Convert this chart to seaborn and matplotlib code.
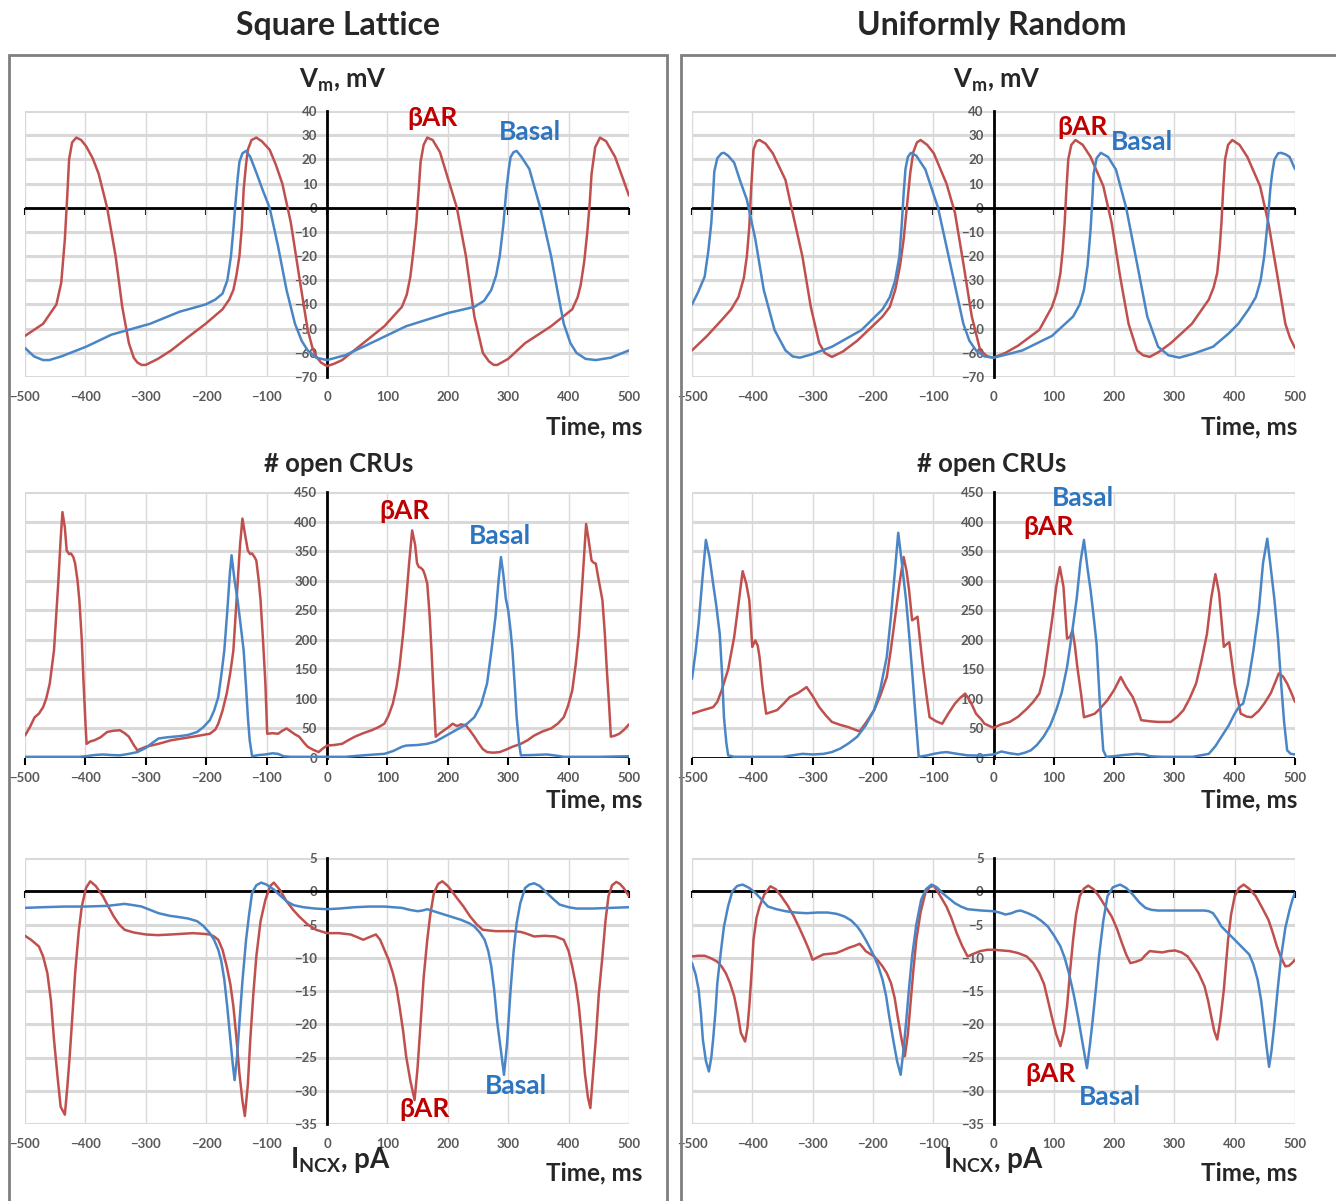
import numpy as np
import pandas as pd
import matplotlib
matplotlib.use("Agg")
import matplotlib.pyplot as plt
import seaborn as sns
from matplotlib.patches import Rectangle

# ---------------- DATA ----------------
x_ticks = list(range(-500, 501, 100))
vm_ticks = list(range(-70, 41, 10))
cru_ticks = list(range(0, 451, 50))
ncx_ticks = list(range(-35, 6, 5))

# Square lattice - membrane potential
sq_vm_t_bar = [-500,-470,-448,-440,-434,-430,-427,-422,-415,-407,-399,-388,-378,-364,-350,-339,-328,-320,-314,-307,-300,-280,-258,-230,-201,-173,-162,-155,-150,-145,-141,-138,-134,-131,-125,-117,-108,-95,-85,-74,-60,-46,-32,-24,-18,-10,0,12,25,60,95,124,132,138,143,148,152,155,160,166,175,187,201,215,230,244,258,268,276,282,300,328,371,406,415,420,426,431,435,438,444,452,462,477,490,500]
sq_vm_bar = [-53,-48,-40,-31,-13,5,20,27,29,28,25.5,20.5,14,0,-20,-41,-56,-62,-64,-65,-65,-62.5,-59,-53.5,-48,-42,-38,-34,-28,-20,-8,7.5,18,24,28,29,27.5,24,18,10,-6,-28.5,-50.5,-58,-61.5,-64,-65.5,-64.5,-63,-56,-49,-41,-36,-28.5,-18,-6,8,19,26,29,28,23,11.5,0,-20,-45,-60,-63.5,-65,-65,-62.5,-56,-49,-42,-37,-32,-22,-10,2,14,25,29,27.5,21,12,5]
sq_vm_t_bas = [-500,-485,-470,-460,-440,-399,-357,-293,-244,-201,-185,-173,-165,-159,-155,-152,-148,-145,-140,-134,-127,-117,-106,-95,-81,-67,-53,-42,-32,-18,0,30,60,131,201,244,260,272,280,286,292,297,301,304,309,314,322,335,353,371,382,392,403,413,428,445,470,500]
sq_vm_bas = [-58,-61.5,-63,-63,-61.5,-57.5,-52.5,-48,-43,-40,-38,-35.5,-30,-20,-9,0.5,12,19,22.5,23.5,21,14.5,7,0,-16,-34,-48,-55,-59,-62,-63,-61,-57.5,-49,-43.5,-41,-38.5,-34,-28,-20,-7,7.5,16,21,23,23.5,21,16,0,-20,-35,-48,-56,-60,-62.5,-63,-62,-59]

# Uniformly random - membrane potential
ur_vm_t_bar = [-500,-475,-451,-435,-423,-414,-409,-405,-402,-398,-393,-388,-378,-366,-345,-335,-317,-303,-289,-280,-268,-250,-226,-184,-172,-163,-155,-149,-143,-138,-133,-127,-121,-110,-99,-78,-64,-50,-36,-22,-10,0,20,41,76,97,105,111,115,118,121,124,129,136,148,161,182,196,210,224,238,248,259,275,294,329,357,365,371,375,378,381,384,389,396,408,421,442,456,470,484,492,500]
ur_vm_bar = [-59,-53,-46.5,-42,-37,-29,-20,-8,7.5,24,27.5,28,26.5,22.5,11.5,0,-20,-41,-56,-60,-61.7,-59.5,-55,-45,-41,-34,-24,-13,2,14.5,23,27,28,26,22.5,10,-2,-23,-45,-59,-61.5,-62,-60,-57,-50.5,-41,-35,-27,-17,-6.4,8,20,26,28,26,21,9,-6.4,-28.5,-48,-59,-61,-61.7,-59.5,-56,-48,-38,-33,-27,-17,-6.4,8,20,26,28,26,21,9,-6.4,-27,-48,-54,-58]
ur_vm_t_bas = [-500,-490,-479,-473,-468,-465,-463,-458,-451,-447,-440,-430,-420,-409,-395,-381,-363,-345,-333,-321,-300,-268,-219,-184,-172,-163,-156,-152,-149,-146,-142,-137,-128,-113,-92,-71,-50,-40,-29,-15,0,25,48,97,132,143,150,156,161,164,166,171,178,190,203,220,238,255,273,290,308,330,364,390,406,423,435,443,449,455,459,462,466,472,477,485,491,500]
ur_vm_bas = [-40,-35,-28.5,-18,-6.4,6,15,20.5,22.5,22.7,21.5,18.6,11,3.3,-13,-34,-50.6,-59,-61.5,-62,-60.5,-57.5,-50.6,-42,-37,-30,-20,-6.4,6,16,21,22.7,21.5,15.8,0,-24,-48,-55,-59,-61.5,-62,-60.5,-59,-53,-45,-40,-34,-24,-9,4,14,20.5,22.7,21,15.8,0,-23,-45,-57.5,-61,-62,-60.5,-57.5,-52,-48,-42,-37,-30,-20,-5,7.5,14,20,22.5,22.7,22,21,16]

# Square lattice - open CRUs
sq_cru_t_bar = [-500,-492,-484,-477,-470,-465,-459,-452,-445,-441,-438,-434,-431,-427,-424,-420,-417,-413,-410,-406,-403,-400,-398,-392,-385,-375,-364,-354,-343,-335,-328,-320,-314,-307,-300,-279,-258,-240,-222,-194,-185,-180,-173,-166,-160,-155,-148,-144,-140,-136,-131,-127,-124,-120,-117,-113,-110,-106,-102,-99,-90,-81,-74,-67,-60,-53,-46,-39,-32,-23,-14,-7,0,12,25,35,46,60,74,85,95,102,109,115,120,126,131,136,141,146,149,152,155,159,162,166,170,173,177,180,187,194,201,208,215,222,230,237,244,251,258,265,275,286,296,307,321,332,343,357,371,382,392,399,406,412,417,423,429,433,438,442,445,450,456,460,463,467,470,477,484,492,500]
sq_cru_bar = [38,52,69,75,86,100,126,182,295,370,416,390,351,345,346,340,329,300,267,200,126,60,24,28,30,35,44,46,47,42,36,22,13,16,19,24,30,33,36,41,48,58,80,109,145,182,295,360,405,380,351,345,346,340,334,300,267,200,126,41,42,41,46,50,45,40,36,27,19,14,10,16,21,22,24,30,36,42,47,52,58,72,92,120,154,210,267,330,385,360,330,323,322,318,310,295,240,182,100,36,42,47,52,58,54,57,55,46,36,25,15,10,9,10,14,19,24,30,38,45,50,58,69,88,114,160,210,300,396,370,334,330,329,300,267,210,154,90,36,38,41,48,57]
sq_cru_t_bas = [-500,-450,-410,-399,-385,-371,-357,-343,-328,-314,-300,-290,-279,-265,-244,-230,-215,-205,-194,-187,-180,-175,-170,-165,-161,-158,-153,-148,-143,-138,-134,-131,-128,-124,-113,-102,-90,-81,-72,-60,0,30,60,80,95,110,124,131,150,166,180,194,208,222,232,244,255,265,272,279,284,288,292,296,300,304,307,311,314,318,321,340,364,380,392,450,500]
sq_cru_bas = [2,2,2,3,5,6,5,4.5,7,10,17,25,33,35,37,39,44,52,64,80,103,140,182,250,310,343,300,267,225,182,120,69,30,3,5,6,8,7,3,2,2,2,4.5,6,7,12,19,21,22,24,28,36,44,52,58,69,90,126,180,239,300,340,310,270,250,215,182,120,69,25,4.5,5,6,4,2,2,3]

# Uniformly random - open CRUs
ur_cru_t_bar = [-500,-485,-465,-458,-451,-440,-430,-423,-416,-410,-405,-400,-395,-391,-388,-383,-377,-368,-359,-348,-338,-324,-310,-300,-289,-278,-268,-254,-240,-230,-222,-210,-198,-188,-177,-170,-163,-156,-149,-144,-140,-135,-130,-126,-122,-117,-111,-106,-95,-85,-75,-64,-55,-47,-38,-29,-20,-15,0,13,27,41,55,66,76,84,90,98,104,110,116,122,127,131,135,139,145,150,160,168,178,189,200,211,220,231,238,245,260,273,294,305,315,325,336,345,354,361,368,374,382,386,391,395,400,405,410,420,428,440,449,460,468,473,480,487,494,500]
ur_cru_bar = [75,80,86,95,114,150,205,260,316,295,267,188,199,190,171,120,75,78,81,92,103,110,120,105,86,72,61,56,52,48,45,62,81,105,137,185,239,295,340,315,284,233,236,239,200,154,105,69,62,58,75,92,102,109,95,75,65,58,51,57,61,70,83,95,109,140,182,240,290,323,290,202,205,216,190,154,110,69,72,75,85,98,115,137,120,103,85,64,62,61,61,70,81,100,126,165,210,270,311,280,188,192,196,165,126,100,75,70,69,80,92,110,130,143,138,126,110,95]
ur_cru_t_bas = [-500,-494,-489,-483,-477,-471,-465,-460,-454,-450,-447,-443,-440,-430,-350,-330,-317,-300,-282,-268,-254,-240,-226,-212,-198,-188,-177,-170,-164,-158,-152,-145,-140,-135,-130,-124,-112,-99,-88,-78,-60,-43,-20,0,13,27,41,52,62,72,83,94,104,113,122,130,138,144,150,156,161,166,171,176,182,187,200,215,238,250,260,280,330,357,368,378,390,400,408,414,422,431,440,447,454,460,466,472,477,482,487,493,500]
ur_cru_bas = [134,180,227,300,369,340,295,260,210,140,69,25,4.5,2,2,5,7,6,7,10,16,25,36,55,81,115,171,240,310,381,330,267,210,148,80,2,4,7,9,10,7,4.5,4,6,11,8,6,9,13,22,36,55,81,110,154,210,270,330,369,320,284,240,193,100,13,2,3,5,7,6,3,2,2,7,20,36,55,75,88,92,125,182,250,330,371,320,267,200,126,60,13,7,6]

# Square lattice - I_NCX
sq_ncx_t_bar = [-500,-490,-477,-470,-463,-457,-452,-446,-441,-434,-430,-426,-421,-417,-411,-406,-399,-392,-383,-371,-362,-353,-344,-335,-320,-300,-280,-258,-240,-222,-205,-194,-187,-180,-173,-166,-160,-155,-150,-145,-140,-136,-131,-127,-122,-117,-110,-102,-94,-88,-78,-67,-56,-46,-32,-18,0,20,39,50,60,70,81,88,95,102,109,115,120,126,131,138,145,150,155,160,166,171,177,184,191,200,215,226,237,248,258,279,307,320,328,343,360,378,392,400,406,412,417,422,427,432,436,440,445,450,456,461,466,472,479,485,491,500]
sq_ncx_bar = [-6.7,-7.3,-8.3,-9.8,-12.3,-16.5,-22.3,-28,-32.4,-33.6,-29.5,-24.8,-18,-12.3,-6,-2.3,0.5,1.5,0.8,-0.75,-2.3,-3.8,-5,-5.8,-6.2,-6.5,-6.6,-6.5,-6.4,-6.3,-6.4,-6.5,-6.8,-7.3,-8.8,-11.3,-14,-17.3,-22,-27.4,-31.5,-33.8,-29,-22.3,-15.5,-9.8,-4.5,-1.3,0.8,1.3,0.2,-1.5,-2.8,-3.8,-5,-5.8,-6.3,-6.3,-6.5,-6.9,-7.3,-6.9,-6.5,-7.3,-8.8,-10.3,-12.3,-14.5,-17.3,-21,-24.8,-28.5,-31.4,-26.5,-19.8,-13,-7.3,-3.5,-0.25,1.1,1.5,0.8,-1,-2.3,-3.8,-5,-5.8,-6,-6,-6.1,-6.3,-6.8,-6.7,-6.8,-7.3,-9,-11.3,-14,-17.3,-22,-27.4,-31,-32.6,-28,-22.3,-15.5,-9.8,-4.5,-0.75,0.9,1.4,1.1,0.5,-0.75]
sq_ncx_t_bas = [-500,-470,-434,-400,-364,-335,-320,-307,-293,-279,-260,-244,-230,-215,-205,-194,-187,-180,-175,-170,-165,-160,-156,-153,-149,-145,-140,-134,-129,-124,-117,-109,-100,-88,-78,-67,-55,-39,-20,0,20,46,70,95,124,137,150,158,166,180,194,208,222,235,244,253,261,267,272,277,282,288,293,298,304,309,314,320,328,335,343,352,364,375,385,400,413,440,470,500]
sq_ncx_bas = [-2.5,-2.4,-2.3,-2.3,-2.2,-1.9,-2.1,-2.3,-2.8,-3.3,-3.7,-3.9,-4.1,-4.5,-5.2,-6.3,-7.3,-8.8,-10.5,-13.3,-17.5,-22.3,-26,-28.4,-25,-19.8,-13.5,-7.3,-3.5,-0.25,0.9,1.3,1.0,0.25,-0.6,-1.5,-2.1,-2.4,-2.6,-2.7,-2.6,-2.4,-2.3,-2.3,-2.5,-2.8,-3,-2.9,-2.7,-3.1,-3.5,-3.9,-4.3,-4.8,-5.3,-6.2,-7.3,-9,-11.3,-15,-19.8,-24,-27.6,-23,-14.8,-9,-4.8,-1.8,0.5,1.0,1.2,0.8,-0.25,-1.2,-2,-2.4,-2.6,-2.6,-2.5,-2.4]

# Uniformly random - I_NCX
ur_ncx_t_bar = [-500,-490,-479,-468,-458,-451,-444,-437,-430,-424,-419,-412,-408,-405,-401,-398,-393,-388,-380,-370,-361,-352,-341,-331,-322,-313,-306,-300,-291,-282,-272,-261,-250,-240,-230,-222,-217,-212,-205,-198,-191,-184,-177,-170,-164,-159,-153,-147,-142,-138,-133,-128,-121,-113,-106,-99,-89,-78,-70,-61,-52,-43,-33,-22,-10,0,14,27,41,55,66,76,84,90,97,104,111,117,122,127,132,137,143,150,157,166,175,185,196,205,213,220,227,236,245,252,259,270,280,290,301,312,322,331,340,350,356,361,366,371,376,382,386,389,394,400,407,415,425,435,445,456,463,470,477,484,490,495,500]
ur_ncx_bar = [-9.8,-9.7,-9.7,-10.1,-10.6,-11.3,-12.3,-13.8,-15.8,-18.5,-21.3,-22.6,-20.5,-17.3,-12,-7.3,-4,-2.3,-0.5,0.75,0.3,-0.75,-2.2,-3.8,-5.5,-7.3,-8.8,-10.3,-9.9,-9.5,-9.4,-9.3,-8.9,-8.5,-8.2,-7.9,-8.4,-9,-9.4,-9.8,-10.5,-11.3,-12.3,-13.8,-16,-18.8,-22,-24.8,-21.5,-17.3,-12,-7.3,-3.2,-0.25,0.6,0.85,-0.6,-2.3,-4,-6.3,-8.2,-9.8,-9.4,-9,-8.8,-8.8,-8.9,-9,-9.3,-9.8,-10.8,-12.3,-14,-16.3,-19,-21.5,-23.3,-21,-17.3,-12,-7.3,-3.5,-0.75,0.4,0.85,0.3,-0.75,-2.2,-3.8,-5.7,-7.8,-9.5,-10.8,-10.6,-10.3,-9.6,-9,-9.1,-9.2,-9,-8.9,-9.2,-9.8,-11,-12.3,-14.3,-16.5,-18.8,-21,-22.3,-19.5,-14.8,-10.5,-7.3,-3.5,-0.75,0.5,1,0.3,-0.75,-2.4,-4.3,-6.2,-8.3,-10,-11.3,-11.2,-10.8,-10.3]
ur_ncx_t_bas = [-500,-494,-489,-485,-482,-477,-472,-468,-465,-461,-458,-452,-447,-440,-433,-425,-416,-405,-395,-385,-374,-360,-345,-328,-310,-292,-275,-260,-247,-236,-226,-219,-212,-205,-198,-191,-184,-178,-173,-166,-160,-154,-150,-145,-140,-135,-128,-120,-112,-103,-94,-85,-75,-64,-54,-43,-20,0,10,20,30,38,45,57,69,80,90,100,111,118,125,133,140,148,155,160,164,170,175,182,189,198,210,220,231,242,252,262,273,290,308,330,350,357,364,371,378,389,400,412,424,431,438,444,449,453,457,461,466,471,477,484,491,496,500]
ur_ncx_bas = [-10.8,-12.5,-14.8,-18.5,-22.3,-25.5,-27.1,-25,-22.3,-18,-13.8,-9,-5.3,-2.2,0,0.8,1,0.5,-0.25,-1.2,-2.3,-2.7,-3,-3.2,-3.3,-3.2,-3.2,-3.4,-3.8,-4.4,-5.3,-6.2,-7.3,-8.5,-9.8,-11.3,-13.3,-15.8,-18.8,-22.5,-25.5,-27.6,-24.5,-19.8,-14.5,-9.8,-5,-1.3,0.3,1,0.6,-0.25,-1,-1.8,-2.3,-2.7,-2.9,-3,-3.2,-3.5,-3.3,-3,-2.9,-3.3,-3.8,-4.5,-5.3,-6.6,-8.3,-10,-12.3,-15.5,-18.8,-23,-26.6,-23,-19.8,-14.5,-9.8,-4.5,-0.75,0.6,1,0.5,-0.5,-1.7,-2.5,-2.8,-2.9,-2.9,-2.9,-2.9,-2.9,-3,-3.3,-4.2,-5.3,-6.3,-7.3,-8.4,-9.5,-11,-13.3,-16.5,-20.3,-23.5,-26.4,-24,-19.8,-15,-9.8,-5.5,-2.8,-1.2,-0.25]

# ---------------- STYLE ----------------
sns.set_style("white")
FONTS = ["Lato", "Open Sans", "DejaVu Sans"]
plt.rcParams["font.family"] = FONTS
plt.rcParams["mathtext.fontset"] = "custom"
plt.rcParams["mathtext.rm"] = "Lato:bold"
plt.rcParams["mathtext.bf"] = "Lato:bold"
plt.rcParams["mathtext.it"] = "Lato:bold:italic"

RED = "#C0504D"
BLUE = "#4A86C6"
RED_TXT = "#C00000"
BLUE_TXT = "#2E75C0"
GRID = "#d9d9d9"
TICK_TXT = "#595959"

W, H = 1336, 1201
fig = plt.figure(figsize=(W / 100, H / 100), dpi=100)


def fx(x):
    return x / W


def fy(y):
    return 1 - y / H


def make_ax(x0, x1, y0, y1):
    return fig.add_axes([fx(x0), fy(y1), fx(x1) - fx(x0), fy(y0) - fy(y1)])


def panel(ax, t_bar, v_bar, t_bas, v_bas, yticks):
    df = pd.concat([
        pd.DataFrame({"t": t_bar, "v": v_bar, "cond": "βAR"}),
        pd.DataFrame({"t": t_bas, "v": v_bas, "cond": "Basal"}),
    ], ignore_index=True)
    sns.lineplot(data=df, x="t", y="v", hue="cond", hue_order=["βAR", "Basal"],
                 palette={"βAR": RED, "Basal": BLUE}, estimator=None, sort=False,
                 linewidth=1.8, legend=False, ax=ax, zorder=3)
    ymin, ymax = yticks[0], yticks[-1]
    ax.set_xlim(x_ticks[0], x_ticks[-1])
    ax.set_ylim(ymin, ymax)
    ax.set_xticks(x_ticks)
    ax.set_yticks(yticks)
    ax.set_xlabel("")
    ax.set_ylabel("")
    ax.grid(True, axis="y", color=GRID, linewidth=2.2, zorder=0)
    ax.grid(True, axis="x", color=GRID, linewidth=1.0, zorder=0)
    ax.set_axisbelow(True)
    for s in ["top", "right", "bottom"]:
        ax.spines[s].set_visible(False)
    ax.spines["left"].set_position(("data", 0))
    ax.spines["left"].set_color("black")
    ax.spines["left"].set_linewidth(2)
    ax.spines["left"].set_zorder(2.5)
    ax.axhline(0, color="black", linewidth=2, zorder=2.6)
    ax.tick_params(axis="x", length=0, pad=10, labelsize=9.5, labelcolor=TICK_TXT)
    ax.tick_params(axis="y", length=4, width=1.5, direction="out", pad=3,
                   labelsize=9.5, labelcolor=TICK_TXT, color="black")
    for lab in ax.get_xticklabels() + ax.get_yticklabels():
        lab.set_fontweight("bold")
    loc = (0 - ymin) / (ymax - ymin)
    sec = ax.secondary_xaxis(loc)
    sec.set_alignment("bottom")
    sec.set_xticks(x_ticks)
    sec.tick_params(axis="x", length=5, width=1.5, color="black",
                    labelbottom=False, labeltop=False, direction="out")
    sec.spines["bottom"].set_visible(False)


lab_kw = dict(fontsize=19, fontweight="bold", ha="center", va="center", zorder=5)

# Left column
ax1 = make_ax(25, 629, 111, 377)
panel(ax1, sq_vm_t_bar, sq_vm_bar, sq_vm_t_bas, sq_vm_bas, vm_ticks)
ax1.text(175, 37, "βAR", color=RED_TXT, **lab_kw)
ax1.text(336, 31.5, "Basal", color=BLUE_TXT, **lab_kw)

ax2 = make_ax(25, 629, 492, 758)
panel(ax2, sq_cru_t_bar, sq_cru_bar, sq_cru_t_bas, sq_cru_bas, cru_ticks)
ax2.text(128, 418, "βAR", color=RED_TXT, **lab_kw)
ax2.text(286, 375, "Basal", color=BLUE_TXT, **lab_kw)

ax3 = make_ax(25, 629, 858, 1124)
panel(ax3, sq_ncx_t_bar, sq_ncx_bar, sq_ncx_t_bas, sq_ncx_bas, ncx_ticks)
ax3.text(162, -32.8, "βAR", color=RED_TXT, **lab_kw)
ax3.text(313, -29.3, "Basal", color=BLUE_TXT, **lab_kw)

# Right column
ax4 = make_ax(692, 1295, 111, 377)
panel(ax4, ur_vm_t_bar, ur_vm_bar, ur_vm_t_bas, ur_vm_bas, vm_ticks)
ax4.text(148, 33.5, "βAR", color=RED_TXT, **lab_kw)
ax4.text(246, 27, "Basal", color=BLUE_TXT, **lab_kw)

ax5 = make_ax(692, 1295, 492, 758)
panel(ax5, ur_cru_t_bar, ur_cru_bar, ur_cru_t_bas, ur_cru_bas, cru_ticks)
ax5.text(148, 440, "Basal", color=BLUE_TXT, **lab_kw)
ax5.text(92, 391, "βAR", color=RED_TXT, **lab_kw)

ax6 = make_ax(692, 1295, 858, 1124)
panel(ax6, ur_ncx_t_bar, ur_ncx_bar, ur_ncx_t_bas, ur_ncx_bas, ncx_ticks)
ax6.text(94, -27.5, "βAR", color=RED_TXT, **lab_kw)
ax6.text(193, -30.9, "Basal", color=BLUE_TXT, **lab_kw)

# Frames
fig.add_artist(Rectangle((fx(9), fy(1230)), fx(667) - fx(9), fy(55) - fy(1230),
                         fill=False, edgecolor="#7f7f7f", linewidth=2, transform=fig.transFigure))
fig.add_artist(Rectangle((fx(681), fy(1230)), fx(1360) - fx(681), fy(55) - fy(1230),
                         fill=False, edgecolor="#7f7f7f", linewidth=2, transform=fig.transFigure))

# Column titles
fig.text(fx(338), fy(25), "Square Lattice", fontsize=23, fontweight="bold", ha="center", va="center")
fig.text(fx(992), fy(25), "Uniformly Random", fontsize=23, fontweight="bold", ha="center", va="center")

# Panel titles
for cx in (343, 997):
    fig.text(fx(cx), fy(80), r"$\mathbf{V_m}$, mV", fontsize=18.5, fontweight="bold", ha="center", va="center")
for cx in (339, 992):
    fig.text(fx(cx), fy(464), "# open CRUs", fontsize=18.5, fontweight="bold", ha="center", va="center")
for cx in (340, 993):
    fig.text(fx(cx), fy(1160), r"$\mathbf{I_{NCX}}$, pA", fontsize=20, fontweight="bold", ha="center", va="center")

# Time labels
for rx in (642, 1297):
    for yy in (427, 800, 1173):
        fig.text(fx(rx), fy(yy), "Time, ms", fontsize=17.5, fontweight="bold", ha="right", va="center")

fig.savefig("out.png", dpi=100)
